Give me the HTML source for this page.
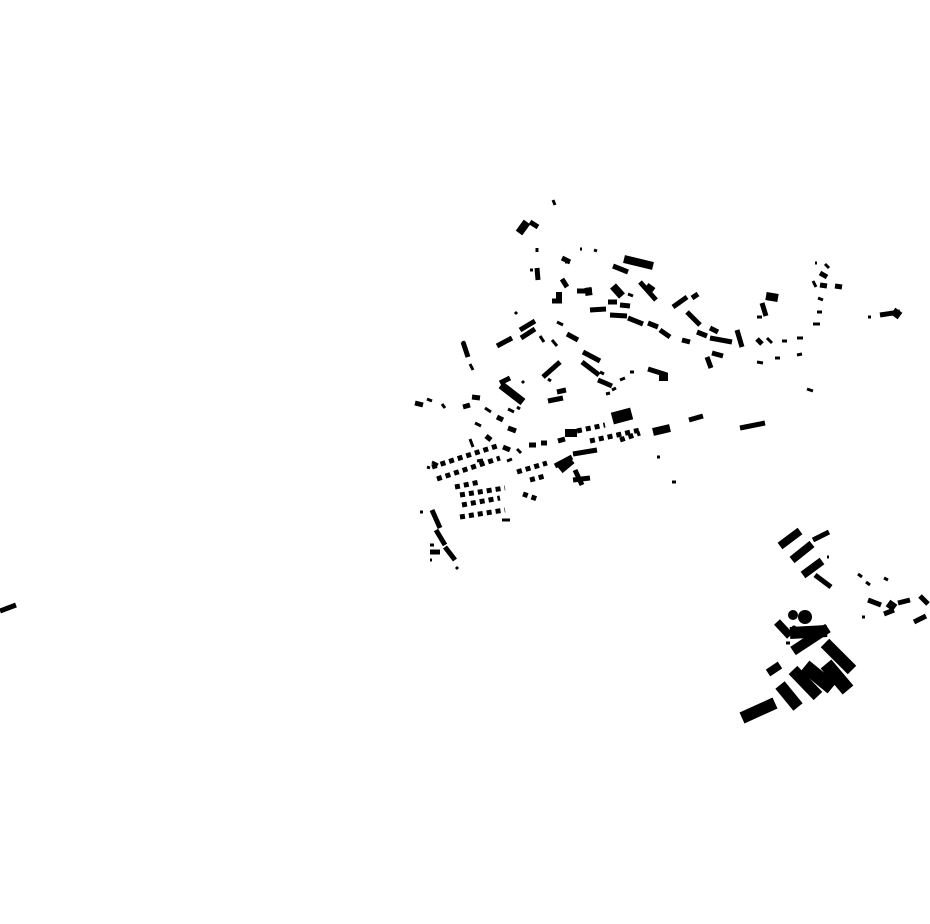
<!DOCTYPE html>
<html><head><meta charset="utf-8"><style>html,body{margin:0;padding:0;background:#fff}svg{display:block}</style></head>
<body>
<svg width="930" height="924" viewBox="0 0 930 924" xmlns="http://www.w3.org/2000/svg">
<g fill="none" stroke="#000" stroke-linecap="butt">
<path stroke-width="3" d="
M553 200 L555 205 M537 248 L537 252 M530 270 L533 270 M565 262 L570 262 M580 249 L582 249 M594 250 L597 251
M628 294 L633 296 M470 364 L473 370 M463 341 L465 347 M552 340 L557 346 M540 336 L544 342 M557 322 L563 325
M442 404 L445 408 M427 399 L432 401 M508 409 L514 412 M517 407 L520 409 M485 408 L491 412 M475 423 L481 426
M470 439 L473 447 M517 449 L521 453 M432 462 L438 465 M427 467 L430 468 M507 461 L512 459 M477 461 L483 460
M657 457 L660 457 M672 482 L676 482 M807 389 L813 391 M757 317 L762 317 M782 341 L787 341 M797 338 L803 338
M815 263 L817 263 M825 264 L829 268 M813 281 L816 287 M818 298 L823 300 M817 312 L822 312 M813 324 L820 324
M767 338 L772 343 M775 358 L780 358 M797 355 L802 354 M757 362 L763 363 M868 317 L871 317
M827 557 L829 557 M786 643 L790 643 M858 574 L862 577 M866 582 L870 585 M884 578 L888 580 M862 617 L865 617
M502 520 L510 520 M456 567 L458 569 M430 560 L432 560 M420 512 L423 512 M430 545 L434 545 M515 312 L517 314
M522 381 L524 383 M548 379 L551 381 M606 394 L610 393 M620 380 L625 378 M600 372 L604 374 M590 368 L594 370
M630 372 L634 372 M612 390 L616 388"/>
<path stroke-width="5" d="
M530 222 L538 227 M537 268 L538 280 M562 279 L567 287 M577 291 L592 291 M552 301 L562 301 M562 258 L570 262
M613 266 L628 272 M640 282 L656 300 M647 285 L654 290 M590 310 L606 309 M608 302 L617 302 M620 305 L630 306
M610 315 L627 316 M628 318 L643 324 M648 323 L658 327 M660 330 L670 337 M520 330 L535 321 M521 338 L535 329
M497 346 L512 338 M463 342 L468 357 M567 334 L578 340 M583 352 L600 361 M582 362 L599 375 M598 380 L612 386
M648 369 L667 375 M543 377 L560 362 M500 383 L510 378 M557 392 L566 390 M548 401 L563 398
M415 403 L423 405 M463 407 L470 405 M472 397 L480 398 M486 436 L491 440 M497 417 L503 420 M508 428 L516 431
M503 447 L510 450 M529 445 L536 445 M541 443 L547 443 M558 441 L565 439 M573 454 L597 450
M555 466 L572 457 M573 480 L590 478 M575 470 L582 485
M432 510 L440 528 M436 530 L445 545 M445 547 L455 560 M430 552 L440 552
M689 420 L703 416 M740 428 L765 423 M0 611 L16 605
M762 303 L766 316 M737 330 L742 347 M757 339 L762 344 M710 338 L732 342 M707 357 L711 368 M712 353 L723 356
M682 340 L690 342 M697 332 L707 336 M673 307 L687 297 M692 298 L698 294 M687 312 L700 325 M710 328 L718 332
M820 273 L827 277 M820 285 L827 286 M835 286 L842 287 M880 315 L900 312
M813 540 L829 532 M815 575 L831 587 M868 600 L881 605 M884 614 L894 610 M898 603 L910 600 M920 596 L928 604 M914 622 L926 616"/>
<path stroke-width="5" stroke-dasharray="5 4" d="
M437 479 L500 458 M432 467 L500 445 M577 431 L605 425 M590 441 L640 430 M517 472 L547 463 M523 494 L540 500
M460 495 L505 488 M462 505 L500 498 M460 517 L505 510 M455 487 L480 482 M620 440 L640 433 M530 480 L545 476"/>
<path stroke-width="8" d="
M519 233 L527 222 M624 259 L653 266 M613 286 L622 296 M556 296 L562 296 M585 292 L592 291 M766 296 L778 298
M501 385 L523 402 M565 433 L577 433 M653 432 L670 428 M560 470 L572 460 M659 377 L668 377
M780 546 L800 531 M792 560 L812 544 M803 575 L822 561 M777 622 L790 636 M768 673 L780 665
M893 311 L900 316 M888 603 L895 608"/>
<path stroke-width="12" d="
M790 633 L827 631 M742 718 L775 703 M825 643 L852 670 M780 685 L798 707 M793 670 L818 696"/>
<path stroke-width="14" d="M805 666 L832 688 M826 664 L848 690"/>
<path stroke-width="10" d="M793 651 L828 628"/>
</g>
<g fill="#000">
<circle cx="805" cy="617" r="7"/>
<circle cx="793" cy="615" r="5"/>
<circle cx="794" cy="628" r="2.5"/>
<circle cx="798" cy="630" r="2.5"/>
<rect x="612" y="410" width="20" height="12" transform="rotate(-15 622 416)"/>
</g>
</svg>
</body></html>
